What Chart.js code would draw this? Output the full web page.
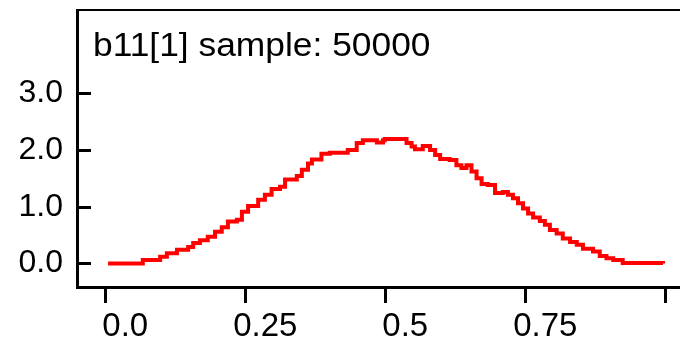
<!DOCTYPE html>
<html>
<head>
<meta charset="utf-8">
<script src="https://cdn.jsdelivr.net/npm/chart.js@4"></script>
<style>
  html, body { margin: 0; padding: 0; background: #fff; }
  canvas { display: block; }
</style>
</head>
<body>
<canvas id="densityChart" width="680" height="342"></canvas>
<script>
// density (x = value of b11[1], y = density)
const densityX = [
    0.005, 0.067, 0.098, 0.110, 0.128, 0.148, 0.157, 0.169, 0.183, 0.196,
    0.208, 0.219, 0.235, 0.244, 0.255, 0.273, 0.285, 0.297, 0.312, 0.321,
    0.342, 0.351, 0.362, 0.369, 0.386, 0.401, 0.433, 0.449, 0.460, 0.485,
    0.496, 0.499, 0.538, 0.547, 0.553, 0.567, 0.580, 0.589, 0.598, 0.615,
    0.627, 0.636, 0.645, 0.654, 0.663, 0.672, 0.683, 0.696, 0.710, 0.719,
    0.728, 0.737, 0.746, 0.755, 0.764, 0.776, 0.785, 0.794, 0.806, 0.817,
    0.830, 0.842, 0.853, 0.871, 0.883, 0.895, 0.907, 0.924, 0.996
];
const densityY = [
    0.00, 0.06, 0.12, 0.18, 0.24, 0.29, 0.36, 0.41, 0.47, 0.56,
    0.64, 0.74, 0.77, 0.91, 1.01, 1.12, 1.21, 1.31, 1.35, 1.48,
    1.54, 1.65, 1.76, 1.83, 1.93, 1.95, 2.00, 2.12, 2.17, 2.13,
    2.17, 2.19, 2.12, 2.06, 2.01, 2.07, 2.00, 1.91, 1.84, 1.82,
    1.73, 1.68, 1.73, 1.62, 1.50, 1.40, 1.38, 1.24, 1.26, 1.21,
    1.15, 1.06, 0.97, 0.88, 0.81, 0.75, 0.68, 0.59, 0.53, 0.44,
    0.38, 0.33, 0.26, 0.21, 0.13, 0.09, 0.06, 0.01, 0.00
];
const xTickValues = [0, 0.25, 0.5, 0.75, 1];
const xTickLabels = ['0.0', '0.25', '0.5', '0.75', ''];
const yTickValues = [0, 1, 2, 3];
const yTickLabels = ['0.0', '1.0', '2.0', '3.0'];
const chartTitle = 'b11[1] sample: 50000';

const points = densityX.map((x, i) => ({ x: x, y: densityY[i] }));

// title inside the box, top border and inward y ticks
const boxDecor = {
    id: 'boxDecor',
    afterDraw(chart) {
        const ctx = chart.ctx;
        const area = chart.chartArea;
        const yScale = chart.scales.y;
        ctx.save();
        ctx.strokeStyle = '#000';
        ctx.lineWidth = 2;
        ctx.beginPath();
        ctx.moveTo(area.left - 1, area.top);
        ctx.lineTo(area.right, area.top);
        ctx.stroke();

        ctx.lineWidth = 3;
        yTickValues.forEach(v => {
            const py = Math.round(yScale.getPixelForValue(v)) + 0.5;
            ctx.beginPath();
            ctx.moveTo(area.left, py);
            ctx.lineTo(area.left + 14, py);
            ctx.stroke();
        });

        ctx.fillStyle = '#000';
        ctx.font = '34px "Liberation Sans", Arial, sans-serif';
        ctx.textBaseline = 'alphabetic';
        ctx.translate(area.left + 16, 56);
        ctx.scale(1.04, 1);
        ctx.fillText(chartTitle, 0, 0);
        ctx.restore();
    }
};

new Chart(document.getElementById('densityChart').getContext('2d'), {
    type: 'line',
    data: {
        datasets: [{
            data: points,
            borderColor: '#ff0000',
            borderWidth: 4,
            pointRadius: 0,
            fill: false,
            stepped: 'before'
        }]
    },
    options: {
        responsive: false,
        animation: false,
        devicePixelRatio: 1,
        layout: { padding: { top: 10, left: 0, right: 0, bottom: 0 } },
        plugins: {
            legend: { display: false },
            tooltip: { enabled: false },
            title: { display: false }
        },
        scales: {
            x: {
                type: 'linear',
                min: -0.0505,
                max: 1.0263,
                afterBuildTicks: scale => {
                    scale.ticks = xTickValues.map(v => ({ value: v }));
                },
                afterFit: scale => {
                    scale.height = 55;
                    scale.paddingLeft = 0;
                    scale.paddingRight = 0;
                },
                ticks: {
                    color: '#000',
                    padding: 4,
                    labelOffset: 20,
                    maxRotation: 0,
                    autoSkip: false,
                    font: { family: '"Liberation Sans", Arial, sans-serif', size: 33 },
                    callback: value => xTickLabels[xTickValues.indexOf(value)]
                },
                grid: {
                    drawOnChartArea: false,
                    drawTicks: true,
                    tickLength: 16,
                    tickWidth: 3,
                    tickColor: '#000'
                },
                border: { display: true, color: '#000', width: 3 }
            },
            y: {
                type: 'linear',
                min: -0.414,
                max: 4.463,
                afterBuildTicks: scale => {
                    scale.ticks = yTickValues.map(v => ({ value: v }));
                },
                afterFit: scale => {
                    scale.width = 77;
                    scale.paddingTop = 0;
                    scale.paddingBottom = 0;
                },
                ticks: {
                    color: '#000',
                    padding: 14,
                    autoSkip: false,
                    font: { family: '"Liberation Sans", Arial, sans-serif', size: 32 },
                    callback: value => yTickLabels[yTickValues.indexOf(value)]
                },
                grid: {
                    drawOnChartArea: false,
                    drawTicks: false
                },
                border: { display: true, color: '#000', width: 3 }
            }
        }
    },
    plugins: [boxDecor]
});
</script>
</body>
</html>
